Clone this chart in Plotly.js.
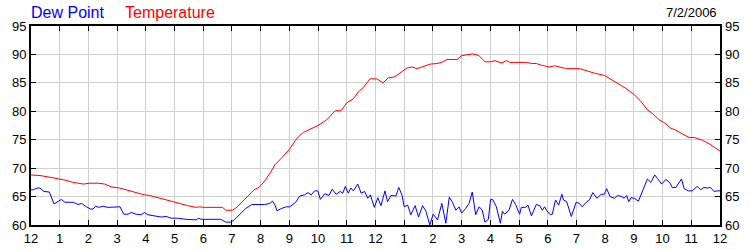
<!DOCTYPE html>
<html>
<head>
<meta charset="utf-8">
<script src="https://cdn.plot.ly/plotly-3.0.1.min.js"></script>
<style>
html,body{margin:0;padding:0;background:#fff;}
#chart{width:750px;height:250px;}
</style>
</head>
<body>
<div id="chart"></div>
<script>
// Hours since midnight (0..24) for each reading
var tempHours = [0,0.31,0.66,1.0,1.18,1.47,1.82,2.05,2.34,2.57,2.8,3.09,3.32,3.55,3.72,3.95,4.13,4.42,4.71,4.94,5.17,5.46,5.75,5.86,6.03,6.67,6.79,7.02,7.19,7.36,7.6,7.77,7.94,8.12,8.35,8.5,8.75,9.0,9.2,9.31,9.49,9.72,10.0,10.3,10.47,10.6,10.8,11.0,11.23,11.4,11.58,11.81,12.05,12.26,12.45,12.63,12.74,12.92,13.09,13.27,13.44,13.62,13.91,14.14,14.3,14.49,14.84,15.0,15.2,15.4,15.6,15.82,16.0,16.16,16.39,16.57,16.68,17.26,17.43,17.61,17.78,18.07,18.24,18.65,19.11,19.34,19.63,19.98,20.15,20.38,20.73,21.02,21.25,21.48,21.65,21.88,22.06,22.29,22.46,22.69,22.92,23.1,23.39,23.62,23.79,24.0];
var tempValues = [68.8,68.7,68.4,68.1,67.9,67.5,67.2,67.35,67.35,67.2,66.7,66.5,66.2,65.9,65.6,65.3,65.2,64.8,64.4,64.1,63.8,63.4,63.1,63.2,63.1,63.1,62.6,62.6,63.2,64.1,65.3,66.2,66.6,67.6,69.3,70.6,71.9,73.3,74.8,75.5,76.3,76.9,77.5,78.5,79.4,80.1,80.1,81.5,82.2,83.4,84.2,85.7,85.7,85.0,85.9,86.0,86.3,87.0,87.6,87.8,87.5,87.8,88.3,88.4,88.6,89.1,89.1,89.8,89.9,90.1,89.8,88.7,88.7,88.9,88.5,88.9,88.6,88.6,88.4,88.4,88.1,87.8,88.0,87.5,87.5,87.1,86.7,86.3,85.8,85.0,84.0,82.9,81.7,80.2,79.6,78.5,78.0,77.0,76.7,76.0,75.4,75.4,74.9,74.3,73.7,73.0];

var dewHours = [0,0.08,0.22,0.31,0.45,0.64,0.8,0.95,1.06,1.18,1.47,1.64,1.76,1.93,2.08,2.16,2.25,2.36,2.51,2.68,2.86,3.03,3.1,3.23,3.38,3.49,3.66,3.84,3.95,4.07,4.3,4.53,4.71,4.88,5.11,5.4,5.75,5.84,5.92,6.61,6.79,6.96,7.08,7.25,7.48,7.69,7.92,8.06,8.14,8.32,8.41,8.49,8.57,8.72,8.9,9.01,9.13,9.22,9.36,9.53,9.65,9.76,9.88,9.99,10.08,10.23,10.38,10.49,10.63,10.77,10.86,10.95,11.05,11.14,11.23,11.38,11.5,11.62,11.73,11.82,11.96,12.08,12.19,12.33,12.42,12.54,12.71,12.81,12.92,13.0,13.12,13.23,13.38,13.5,13.64,13.76,13.89,14.01,14.16,14.31,14.45,14.57,14.68,14.8,14.91,15.0,15.14,15.26,15.37,15.49,15.61,15.72,15.81,15.93,16.01,16.08,16.21,16.35,16.42,16.5,16.65,16.77,16.88,17.02,17.08,17.23,17.31,17.43,17.6,17.72,17.81,17.89,17.97,18.09,18.16,18.27,18.38,18.49,18.55,18.66,18.82,18.99,19.1,19.2,19.34,19.45,19.57,19.71,19.86,19.97,20.05,20.17,20.32,20.43,20.58,20.66,20.75,20.82,20.9,21.01,21.16,21.3,21.47,21.59,21.73,21.82,21.97,22.11,22.23,22.34,22.46,22.66,22.75,22.9,23.03,23.21,23.32,23.44,23.55,23.67,23.79,23.9,24.0];
var dewValues = [66.2,66.2,66.5,66.5,65.9,65.8,63.7,64.2,64.5,64.0,64.0,63.6,63.8,63.2,62.8,62.8,63.3,63.1,63.3,63.1,63.2,63.2,63.2,61.9,61.9,62.2,61.9,61.8,62.2,61.8,61.6,61.4,61.5,61.2,61.2,61.0,60.9,61.2,61.0,61.0,60.5,60.5,60.9,61.8,62.9,63.6,63.6,63.5,63.6,63.8,64.2,63.6,62.5,62.9,63.2,63.2,63.7,64.0,65.1,65.3,65.7,65.3,66.0,66.0,64.5,65.5,65.2,66.3,65.4,65.9,65.6,66.8,65.6,66.5,66.0,67.2,65.6,65.9,64.7,65.3,63.1,64.8,63.4,66.0,64.1,65.2,65.1,66.6,65.3,63.2,63.5,61.8,63.4,61.4,63.4,62.4,60.0,61.9,60.9,63.8,60.3,64.9,64.0,62.6,63.2,62.1,62.9,63.8,65.8,61.8,63.2,62.6,60.5,61.0,64.5,64.5,63.2,60.3,62.4,61.9,62.6,64.5,63.6,61.9,63.1,63.1,63.5,61.6,63.6,63.4,62.6,63.2,62.5,61.8,61.9,64.4,63.5,65.4,64.4,64.1,61.5,64.0,63.8,63.2,64.0,64.4,65.7,64.7,65.4,65.4,66.4,65.0,64.7,65.2,65.0,64.7,65.2,64.1,64.8,64.7,64.2,65.9,68.1,67.5,68.8,68.2,67.2,68.0,67.6,66.6,66.6,68.1,66.4,66.0,66.0,66.8,66.2,66.6,66.5,66.6,65.9,66.0,66.0];

var hourTickVals = [0,1,2,3,4,5,6,7,8,9,10,11,12,13,14,15,16,17,18,19,20,21,22,23,24];
var hourTickText = ['12','1','2','3','4','5','6','7','8','9','10','11','12','1','2','3','4','5','6','7','8','9','10','11','12'];
var tempTickVals = [60,65,70,75,80,85,90,95];
var seriesNames = ['Dew Point','Temperature'];
var dateLabel = '7/2/2006';

var tickFont = {family:'Liberation Sans, Arial, sans-serif', size:13, color:'#000'};

var traces = [
  {x: dewHours, y: dewValues, type:'scatter', mode:'lines', name: seriesNames[0],
   line:{color:'#0000ff', width:1}, xaxis:'x', yaxis:'y', hoverinfo:'skip'},
  {x: tempHours, y: tempValues, type:'scatter', mode:'lines', name: seriesNames[1],
   line:{color:'#ff0000', width:1}, xaxis:'x', yaxis:'y2', hoverinfo:'skip'}
];

var layout = {
  width:750, height:250,
  margin:{l:31, r:30, t:26, b:25, pad:0},
  paper_bgcolor:'#fff', plot_bgcolor:'#fff',
  showlegend:false,
  xaxis:{range:[0,24], tickmode:'array', tickvals:hourTickVals, ticktext:hourTickText,
    showgrid:true, gridcolor:'#d0d0d0', gridwidth:1, zeroline:false,
    showline:true, linecolor:'#000', linewidth:2, mirror:'ticks',
    ticks:'inside', ticklen:5, tickcolor:'#000', tickwidth:1,
    tickfont:tickFont, fixedrange:true},
  yaxis:{range:[60,95], tickmode:'array', tickvals:tempTickVals,
    showgrid:true, gridcolor:'#d0d0d0', gridwidth:1, zeroline:false,
    showline:true, linecolor:'#000', linewidth:2, mirror:'ticks',
    ticks:'inside', ticklen:5, tickcolor:'#000', tickwidth:1,
    tickfont:tickFont, fixedrange:true},
  yaxis2:{range:[60,95], tickmode:'array', tickvals:tempTickVals, overlaying:'y', side:'right',
    showgrid:false, zeroline:false, showline:false, ticklabelstandoff:4,
    ticks:'', tickfont:tickFont, fixedrange:true},
  annotations:[
    {text:seriesNames[0], xref:'paper', yref:'paper', x:-0.003, y:1.07, xanchor:'left', yanchor:'middle',
     showarrow:false, font:{family:'Liberation Sans, Arial, sans-serif', size:16, color:'#0000ff'}},
    {text:seriesNames[1], xref:'paper', yref:'paper', x:0.133, y:1.07, xanchor:'left', yanchor:'middle',
     showarrow:false, font:{family:'Liberation Sans, Arial, sans-serif', size:16, color:'#ff0000'}},
    {text:dateLabel, xref:'paper', yref:'paper', x:0.998, y:1.07, xanchor:'right', yanchor:'middle',
     showarrow:false, font:{family:'Liberation Sans, Arial, sans-serif', size:13, color:'#000'}}
  ]
};

Plotly.newPlot('chart', traces, layout, {staticPlot:true, displayModeBar:false});
</script>
</body>
</html>
